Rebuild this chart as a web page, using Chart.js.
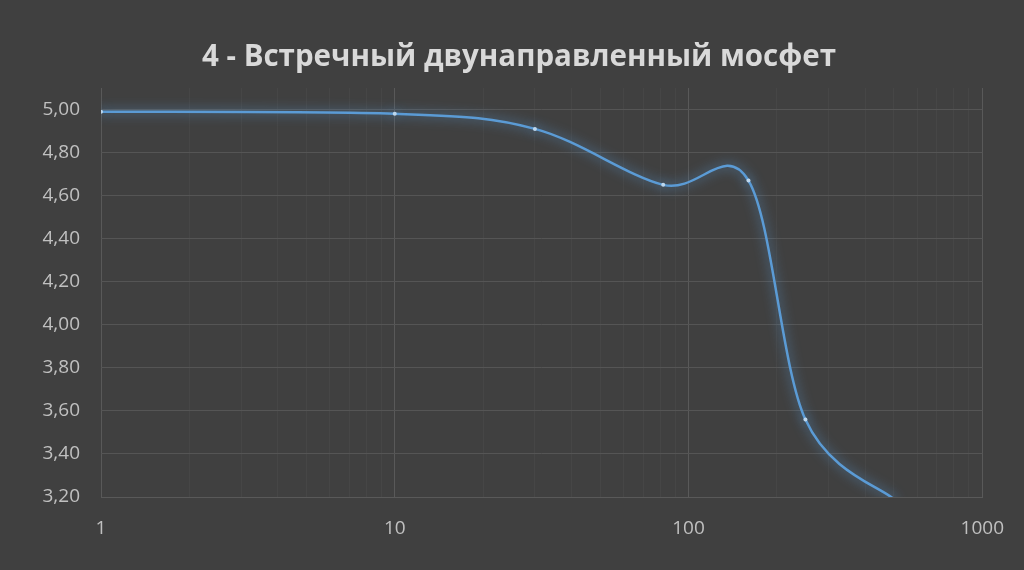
<!DOCTYPE html>
<html>
<head>
<meta charset="utf-8">
<script src="https://cdn.jsdelivr.net/npm/chart.js@4"></script>
<style>
  html, body { margin: 0; padding: 0; background: #404040; }
  #wrap { width: 1024px; height: 570px; }
</style>
</head>
<body>
<div id="wrap"><canvas id="chart"></canvas></div>
<script>
// frequency (log axis) and measured voltage
const freq = [1, 10, 30, 82, 160, 250, 500];
const volts = [4.99, 4.98, 4.91, 4.65, 4.67, 3.56, 3.19];
const yTicks = [3.2, 3.4, 3.6, 3.8, 4.0, 4.2, 4.4, 4.6, 4.8, 5.0];
const xTicks = [1, 2, 3, 4, 5, 6, 7, 8, 9, 10, 20, 30, 40, 50, 60, 70, 80, 90,
    100, 200, 300, 400, 500, 600, 700, 800, 900, 1000];
const xLabels = [1, 10, 100, 1000];

// excel-like smoothing: control points at +-1/6 of neighbour difference
const excelSmooth = {
    id: 'excelSmooth',
    beforeDatasetDraw(chart, args) {
        const line = args.meta.dataset;
        const pts = args.meta.data;
        line.updateControlPoints(chart.chartArea, 'x');
        pts.forEach((p, i) => {
            const prev = pts[i - 1] || p;
            const next = pts[i + 1] || p;
            const dx = (next.x - prev.x) / 6;
            const dy = (next.y - prev.y) / 6;
            p.cp1x = p.x - dx; p.cp1y = p.y - dy;
            p.cp2x = p.x + dx; p.cp2y = p.y + dy;
        });
        line._path = undefined;
    }
};

const glow = {
    id: 'glow',
    beforeDatasetDraw(chart) {
        const ctx = chart.ctx;
        ctx.save();
        ctx.shadowColor = 'rgba(91, 155, 213, 0.95)';
        ctx.shadowBlur = 12;
    },
    afterDatasetDraw(chart) {
        chart.ctx.restore();
    }
};

const font = "'Open Sans', 'Liberation Sans', sans-serif";

new Chart(document.querySelector('#chart'), {
    type: 'line',
    data: {
        datasets: [{
            label: 'U',
            data: freq.map((f, i) => ({x: f, y: volts[i]})),
            borderColor: '#5b9bd5',
            borderWidth: 2.5,
            backgroundColor: '#bdd7ee',
            pointBackgroundColor: '#bdd7ee',
            pointBorderWidth: 0,
            pointRadius: 2,
            tension: 0.4,
            capBezierPoints: false,
            fill: false
        }]
    },
    options: {
        responsive: true,
        maintainAspectRatio: false,
        animation: false,
        layout: {padding: {left: 14, right: 0, top: 0, bottom: 0}},
        plugins: {
            legend: {display: false},
            tooltip: {enabled: false},
            title: {
                display: true,
                text: '4 - Встречный двунаправленный мосфет',
                color: '#d9d9d9',
                font: {family: font, size: 29.5, weight: 'bold'},
                padding: {top: 40, bottom: 12.6}
            }
        },
        scales: {
            x: {
                type: 'logarithmic',
                min: 1,
                max: 1000,
                afterBuildTicks: axis => { axis.ticks = xTicks.map(v => ({value: v})); },
                afterFit: axis => { axis.height = 73; },
                ticks: {
                    color: '#c0c0c0',
                    font: {family: font, size: 19},
                    padding: 20,
                    autoSkip: false,
                    maxRotation: 0,
                    callback: v => xLabels.includes(v) ? String(v) : ''
                },
                grid: {
                    drawTicks: false,
                    color: ctx => xLabels.includes(ctx.tick && ctx.tick.value) ? '#595959' : '#464646',
                    lineWidth: 1
                },
                border: {color: '#595959'}
            },
            y: {
                min: 3.2,
                max: 5.1,
                afterBuildTicks: axis => { axis.ticks = yTicks.map(v => ({value: v})); },
                afterFit: axis => { axis.width = 87; },
                ticks: {
                    color: '#c0c0c0',
                    font: {family: font, size: 19},
                    padding: 21,
                    callback: v => v.toFixed(2).replace('.', ',')
                },
                grid: {drawTicks: false, color: '#555555'},
                border: {display: false}
            },
            // empty right-hand spacer so the plot ends where the original does
            spacer: {
                position: 'right',
                min: 0,
                max: 1,
                afterFit: axis => { axis.width = 35; },
                ticks: {display: false},
                grid: {display: false},
                border: {display: false}
            }
        }
    },
    plugins: [excelSmooth, glow]
});
</script>
</body>
</html>
